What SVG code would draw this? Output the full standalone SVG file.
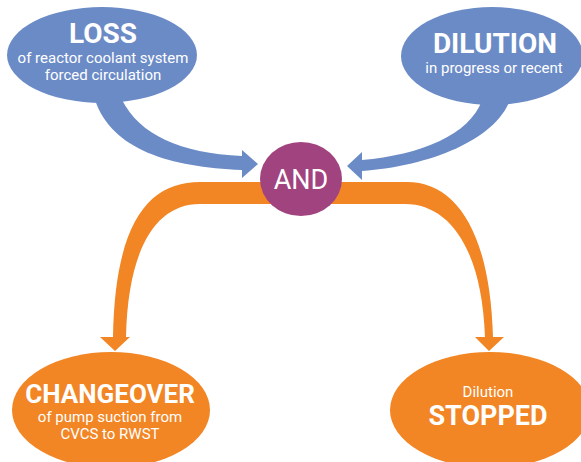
<svg xmlns="http://www.w3.org/2000/svg" width="581" height="462" viewBox="0 0 581 462">
<style>
.blue{fill:#6b8bc7}
.orange{fill:#f28524}
.purple{fill:#a1437f}
text{font-family:Roboto,"Liberation Sans",sans-serif;fill:#ffffff;text-anchor:middle}
.big{font-size:28px;font-weight:bold}
.small{font-size:15px}
.and{font-size:27px}
</style>
<rect width="581" height="462" fill="#ffffff"/>
<g id="connectors">
<path class="blue" d="M95,100 C112,150 170,167 242,170 L242,178 L258,164 L242,150 L242,156 C180,153 140,135 122,100 Z"/>
<path class="blue" d="M482,100 C470,135 420,155 362,160 L362,152 L347,166 L362,180 L362,171 C430,166 495,140 510,100 Z"/>
<path class="orange" d="M115,351 L100,337 L113,337 C115,220 150,182 200,182 L407,182 C455,182 490,230 493,337 L504,337 L489,351 L475,337 L485,337 C482,250 450,204 405,204 L200,204 C155,204 128,250 126,337 L130,337 Z"/>
</g>
<g id="loss">
<ellipse class="blue" cx="102" cy="55" rx="95" ry="48"/>
<text class="big" x="103" y="43">LOSS</text>
<text class="small" x="103" y="63">of reactor coolant system</text>
<text class="small" x="103" y="80">forced circulation</text>
</g>
<g id="dilution">
<ellipse class="blue" cx="492" cy="56" rx="91" ry="49"/>
<text class="big" x="495" y="53">DILUTION</text>
<text class="small" x="494" y="73">in progress or recent</text>
</g>
<g id="and">
<ellipse class="purple" cx="301" cy="179" rx="41" ry="37"/>
<text class="and" x="301" y="189">AND</text>
</g>
<g id="changeover">
<ellipse class="orange" cx="111" cy="410" rx="99" ry="58"/>
<text class="big" x="110" y="403" style="font-size:26px">CHANGEOVER</text>
<text class="small" x="110" y="422">of pump suction from</text>
<text class="small" x="110" y="439">CVCS to RWST</text>
</g>
<g id="stopped">
<ellipse class="orange" cx="490" cy="410" rx="100" ry="58"/>
<text class="small" x="488" y="397">Dilution</text>
<text class="big" x="488" y="425" style="font-size:27px">STOPPED</text>
</g>
</svg>
